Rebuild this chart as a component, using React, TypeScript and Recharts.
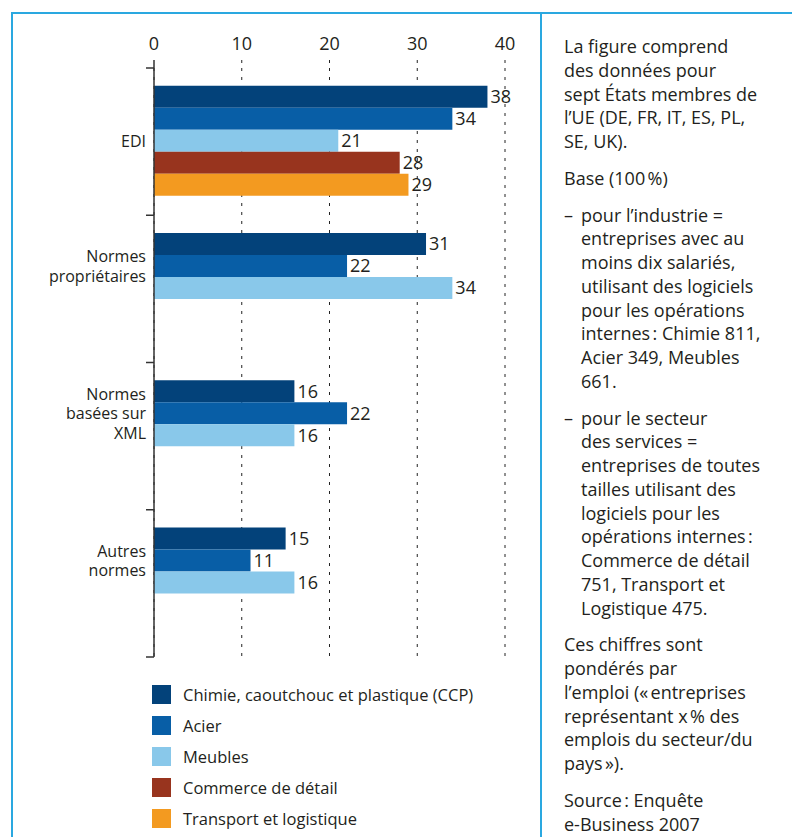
import React from 'react';
import { BarChart, Bar, XAxis, YAxis, CartesianGrid, LabelList } from 'recharts';

const categories = ['EDI', 'Normes propriétaires', 'Normes basées sur XML', 'Autres normes'];
const categoryLines: string[][] = [['EDI'], ['Normes', 'propriétaires'], ['Normes', 'basées sur', 'XML'], ['Autres', 'normes']];
const ccp = [38, 31, 16, 15];
const acier = [34, 22, 22, 11];
const meubles = [21, 34, 16, 16];
const commerce: (number | null)[] = [28, null, null, null];
const transport: (number | null)[] = [29, null, null, null];
const xTicks = [0, 10, 20, 30, 40];

const seriesKeys = ['ccp', 'acier', 'meubles', 'commerce', 'transport'];
const seriesNames = [
  'Chimie, caoutchouc et plastique (CCP)',
  'Acier',
  'Meubles',
  'Commerce de détail',
  'Transport et logistique',
];
const seriesColors = ['#03427a', '#085ea6', '#89c8ea', '#98341e', '#f39a20'];

const data = categories.map((c, i) => ({
  category: c,
  ccp: ccp[i],
  acier: acier[i],
  meubles: meubles[i],
  commerce: commerce[i],
  transport: transport[i],
}));
const seriesValues = [ccp, acier, meubles, commerce, transport];

const FONT = '"Open Sans", "Noto Sans", sans-serif';
const TEXT = '#231f20';
const FRAME = '#2aa8e0';

const CH_W = 520;
const CH_H = 670;
const MARGIN = { top: 0, right: 15, bottom: 13, left: 0 };
const X_AXIS_H = 68;
const Y_AXIS_W = 154;
const TICK_SIZE = 8;
const TICK_MARGIN = 6;
const CAT_GAP = 0.12;
const PLOT_H = CH_H - MARGIN.top - MARGIN.bottom - X_AXIS_H;
const BAND = PLOT_H / categories.length;
const BAR_H = (BAND * (1 - 2 * CAT_GAP)) / seriesKeys.length;

const XTick = (props: any) => {
  const { x, y, payload } = props;
  const lineTop = y + TICK_MARGIN;
  return (
    <g>
      <line
        x1={x}
        x2={x}
        y1={lineTop}
        y2={lineTop + TICK_SIZE}
        stroke={payload.value === 0 ? '#333' : '#222'}
        strokeWidth={payload.value === 0 ? 1.5 : 1}
        strokeDasharray={payload.value === 0 ? undefined : '3 6'}
      />
      <text x={x} y={y} dy={-4} textAnchor="middle" fill={TEXT} fontSize={18} fontFamily={FONT}>
        {payload.value}
      </text>
    </g>
  );
};

function payloadText(props: any) {
  return props.payload ? String(props.payload.value) : '';
}

const YTick = (props: any) => {
  const { x, y, index } = props;
  const lines = categoryLines[index] || [payloadText(props)];
  const present = seriesValues.filter((s) => s[index] !== null && s[index] !== undefined).length;
  const center = y - ((seriesKeys.length - present) * BAR_H) / 2;
  const lh = 19.5;
  const startY = center - ((lines.length - 1) * lh) / 2;
  const axisX = x + TICK_SIZE;
  const isLast = index === categories.length - 1;
  return (
    <g>
      <line x1={axisX - TICK_SIZE} x2={axisX} y1={y - BAND / 2} y2={y - BAND / 2} stroke="#333" strokeWidth={1.5} />
      {isLast && (
        <line x1={axisX - TICK_SIZE} x2={axisX} y1={y + BAND / 2} y2={y + BAND / 2} stroke="#333" strokeWidth={1.5} />
      )}
      <text textAnchor="end" fill={TEXT} fontSize={16} fontFamily={FONT}>
        {lines.map((l, i) => (
          <tspan key={i} x={x} y={startY + i * lh} dy="0.35em">
            {l}
          </tspan>
        ))}
      </text>
    </g>
  );
};

const paragraphs: { lines: string[]; dash?: boolean }[] = [
  { lines: ['La figure comprend', 'des données pour', 'sept États membres de', 'l’UE (DE, FR, IT, ES, PL,', 'SE, UK).'] },
  { lines: ['Base (100\u202F%)'] },
  {
    dash: true,
    lines: ['pour l’industrie =', 'entreprises avec au', 'moins dix salariés,', 'utilisant des logiciels', 'pour les opérations', 'internes\u202F: Chimie 811,', 'Acier 349, Meubles', '661.'],
  },
  {
    dash: true,
    lines: ['pour le secteur', 'des services =', 'entreprises de toutes', 'tailles utilisant des', 'logiciels pour les', 'opérations internes\u202F:', 'Commerce de détail', '751, Transport et', 'Logistique 475.'],
  },
  { lines: ['Ces chiffres sont', 'pondérés par', 'l’emploi (\u00AB\u202Fentreprises', 'représentant x\u202F% des', 'emplois du secteur/du', 'pays\u202F\u00BB).'] },
  { lines: ['Source\u202F: Enquête', 'e-Business 2007'] },
];

export default function App() {
  return (
    <div style={{ position: 'absolute', left: 0, top: 0, width: 792, height: 837, background: '#fff', overflow: 'hidden', fontFamily: FONT }}>
      {/* frame */}
      <div style={{ position: 'absolute', left: 11, top: 12, width: 800, height: 2, background: FRAME }} />
      <div style={{ position: 'absolute', left: 11, top: 12, width: 2, height: 840, background: FRAME }} />
      <div style={{ position: 'absolute', left: 540, top: 12, width: 2, height: 840, background: FRAME }} />

      <div style={{ position: 'absolute', left: 0, top: 0 }}>
        <BarChart
          width={CH_W}
          height={CH_H}
          data={data}
          layout="vertical"
          margin={MARGIN}
          barCategoryGap={`${CAT_GAP * 100}%`}
          barGap={0}
        >
          <CartesianGrid vertical horizontal={false} stroke="#222" strokeDasharray="3 6" />
          <XAxis
            type="number"
            orientation="top"
            domain={[0, 40]}
            ticks={xTicks}
            height={X_AXIS_H}
            axisLine={false}
            tickLine={false}
            tickSize={TICK_SIZE}
            tickMargin={TICK_MARGIN}
            tick={<XTick />}
            interval={0}
          />
          <YAxis
            type="category"
            dataKey="category"
            width={Y_AXIS_W}
            axisLine={{ stroke: '#333', strokeWidth: 1.5 }}
            tickLine={false}
            tickSize={TICK_SIZE}
            tickMargin={0}
            tick={<YTick />}
            interval={0}
          />
          {seriesKeys.map((k, i) => (
            <Bar key={k} dataKey={k} name={seriesNames[i]} fill={seriesColors[i]} isAnimationActive={false}>
              <LabelList dataKey={k} position="right" offset={3} fill={TEXT} fontSize={18} fontFamily={FONT} />
            </Bar>
          ))}
        </BarChart>
      </div>

      {/* legend */}
      <div style={{ position: 'absolute', left: 152, top: 685 }}>
        {seriesNames.map((n, i) => (
          <div key={n} style={{ display: 'flex', alignItems: 'center', height: 19, marginBottom: 12 }}>
            <div style={{ width: 19, height: 19, background: seriesColors[i], marginRight: 12 }} />
            <span style={{ fontSize: 16.5, color: TEXT, whiteSpace: 'nowrap' }}>{n}</span>
          </div>
        ))}
      </div>

      {/* notes */}
      <div style={{ position: 'absolute', left: 564, top: 35, width: 226, fontSize: 18, lineHeight: '23.75px', color: TEXT }}>
        {paragraphs.map((p, i) => (
          <div key={i} style={{ marginBottom: 13, paddingLeft: p.dash ? 17 : 0, position: 'relative' }}>
            {p.dash && <span style={{ position: 'absolute', left: 0, top: 0 }}>–</span>}
            {p.lines.map((l, j) => (
              <div key={j} style={{ whiteSpace: 'nowrap' }}>{l}</div>
            ))}
          </div>
        ))}
      </div>
    </div>
  );
}
